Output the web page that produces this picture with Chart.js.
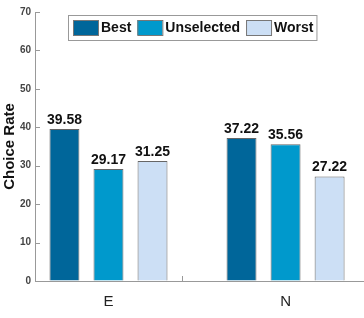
<!DOCTYPE html>
<html>
<head>
<meta charset="utf-8">
<script src="https://cdn.jsdelivr.net/npm/chart.js@4"></script>
<style>
  body { margin: 0; background: #fff; }
  canvas { display: block; }
</style>
</head>
<body>
<canvas id="myChart" width="364" height="318"></canvas>
<script>
// values
const categories = ['E', 'N'];
const seriesNames = ['Best', 'Unselected', 'Worst'];
const best = [39.58, 37.22];
const unselected = [29.17, 35.56];
const worst = [31.25, 27.22];
const yTicks = [0, 10, 20, 30, 40, 50, 60, 70];

const colors = ['#00669A', '#0099CC', '#CCDFF5'];
const FONT = '"Liberation Sans", Arial, sans-serif';

// categories placed on a linear axis at 1, 2
const catPos = categories.map((c, i) => i + 1);
const midTick = 1.415;

function series(vals) {
  return vals.map((v, i) => ({ x: catPos[i], y: v }));
}

const tickMarks = {
  id: 'tickMarks',
  afterDraw(chart) {
    const ctx = chart.ctx;
    const area = chart.chartArea;
    const y = chart.scales.y, x = chart.scales.x;
    ctx.save();
    ctx.strokeStyle = '#999';
    ctx.lineWidth = 1;
    ctx.beginPath();
    yTicks.forEach(v => {
      const py = Math.round(y.getPixelForValue(v)) + 0.5;
      ctx.moveTo(area.left, py);
      ctx.lineTo(area.left + 5, py);
    });
    const px = Math.round(x.getPixelForValue(midTick)) + 0.5;
    ctx.moveTo(px, area.bottom);
    ctx.lineTo(px, area.bottom - 5);
    ctx.stroke();
    ctx.restore();
  }
};

const barLabels = {
  id: 'barLabels',
  afterDatasetsDraw(chart) {
    const ctx = chart.ctx;
    ctx.save();
    ctx.font = 'bold 14px ' + FONT;
    ctx.fillStyle = '#111';
    ctx.textAlign = 'center';
    ctx.textBaseline = 'bottom';
    chart.data.datasets.forEach((ds, di) => {
      chart.getDatasetMeta(di).data.forEach((bar, i) => {
        ctx.fillText(ds.data[i].y.toFixed(2), bar.x, bar.y - 2);
      });
    });
    ctx.restore();
  }
};

const boxLegend = {
  id: 'boxLegend',
  afterDraw(chart) {
    const ctx = chart.ctx;
    const area = chart.chartArea;
    ctx.save();
    ctx.font = 'bold 14px ' + FONT;
    const left = area.left + 33, top = 15, h = 25;
    let x = left + 5;
    const items = [];
    chart.data.datasets.forEach((ds, i) => {
      const w = ctx.measureText(ds.label).width;
      items.push({ x: x, label: ds.label, color: ds.backgroundColor });
      x += 25 + 3 + w + 6;
    });
    const right = x - 3;
    ctx.fillStyle = '#fff';
    ctx.fillRect(left, top, right - left, h);
    ctx.strokeStyle = '#999';
    ctx.lineWidth = 1;
    ctx.strokeRect(left + 0.5, top + 0.5, right - left, h);
    items.forEach(it => {
      ctx.fillStyle = it.color;
      ctx.fillRect(it.x, top + 5, 25, 15);
      ctx.strokeStyle = '#777';
      ctx.strokeRect(it.x + 0.5, top + 5.5, 25, 15);
      ctx.fillStyle = '#111';
      ctx.textBaseline = 'middle';
      ctx.fillText(it.label, it.x + 28, top + h / 2 + 1);
    });
    ctx.restore();
  }
};

const ctx = document.getElementById('myChart');
const chart = new Chart(ctx, {
  type: 'bar',
  data: {
    datasets: [
      { label: seriesNames[0], data: series(best), backgroundColor: colors[0] },
      { label: seriesNames[1], data: series(unselected), backgroundColor: colors[1] },
      { label: seriesNames[2], data: series(worst), backgroundColor: colors[2] }
    ].map(d => Object.assign(d, {
      borderColor: '#666',
      borderWidth: 1,
      categoryPercentage: 0.746,
      barPercentage: 0.68
    }))
  },
  options: {
    responsive: false,
    animation: false,
    devicePixelRatio: 1,
    layout: { padding: { top: 12, right: 0, left: 0, bottom: 0 } },
    plugins: {
      legend: { display: false },
      tooltip: { enabled: false }
    },
    scales: {
      x: {
        type: 'linear',
        min: 0.585,
        max: 2.443,
        offset: false,
        grid: { drawOnChartArea: false, drawTicks: false },
        border: { color: '#999', width: 1 },
        afterBuildTicks: s => { s.ticks = catPos.map(v => ({ value: v })); },
        afterFit: s => { s.height = 37; },
        ticks: {
          autoSkip: false,
          maxRotation: 0,
          padding: 12,
          color: '#222',
          font: { family: FONT, size: 15 },
          callback: v => categories[Math.round(v) - 1]
        }
      },
      y: {
        min: 0,
        max: 70,
        grid: { drawOnChartArea: false, drawTicks: false },
        border: { color: '#999', width: 1 },
        afterBuildTicks: s => { s.ticks = yTicks.map(v => ({ value: v })); },
        afterFit: s => { s.width = 35; },
        ticks: {
          padding: 4,
          color: '#444',
          font: { family: FONT, size: 10, weight: 'bold' }
        },
        title: {
          display: true,
          text: 'Choice Rate',
          color: '#111',
          padding: { top: 1, bottom: 0 },
          font: { family: FONT, size: 15, weight: 'bold' }
        }
      }
    }
  },
  plugins: [tickMarks, barLabels, boxLegend]
});
</script>
</body>
</html>
